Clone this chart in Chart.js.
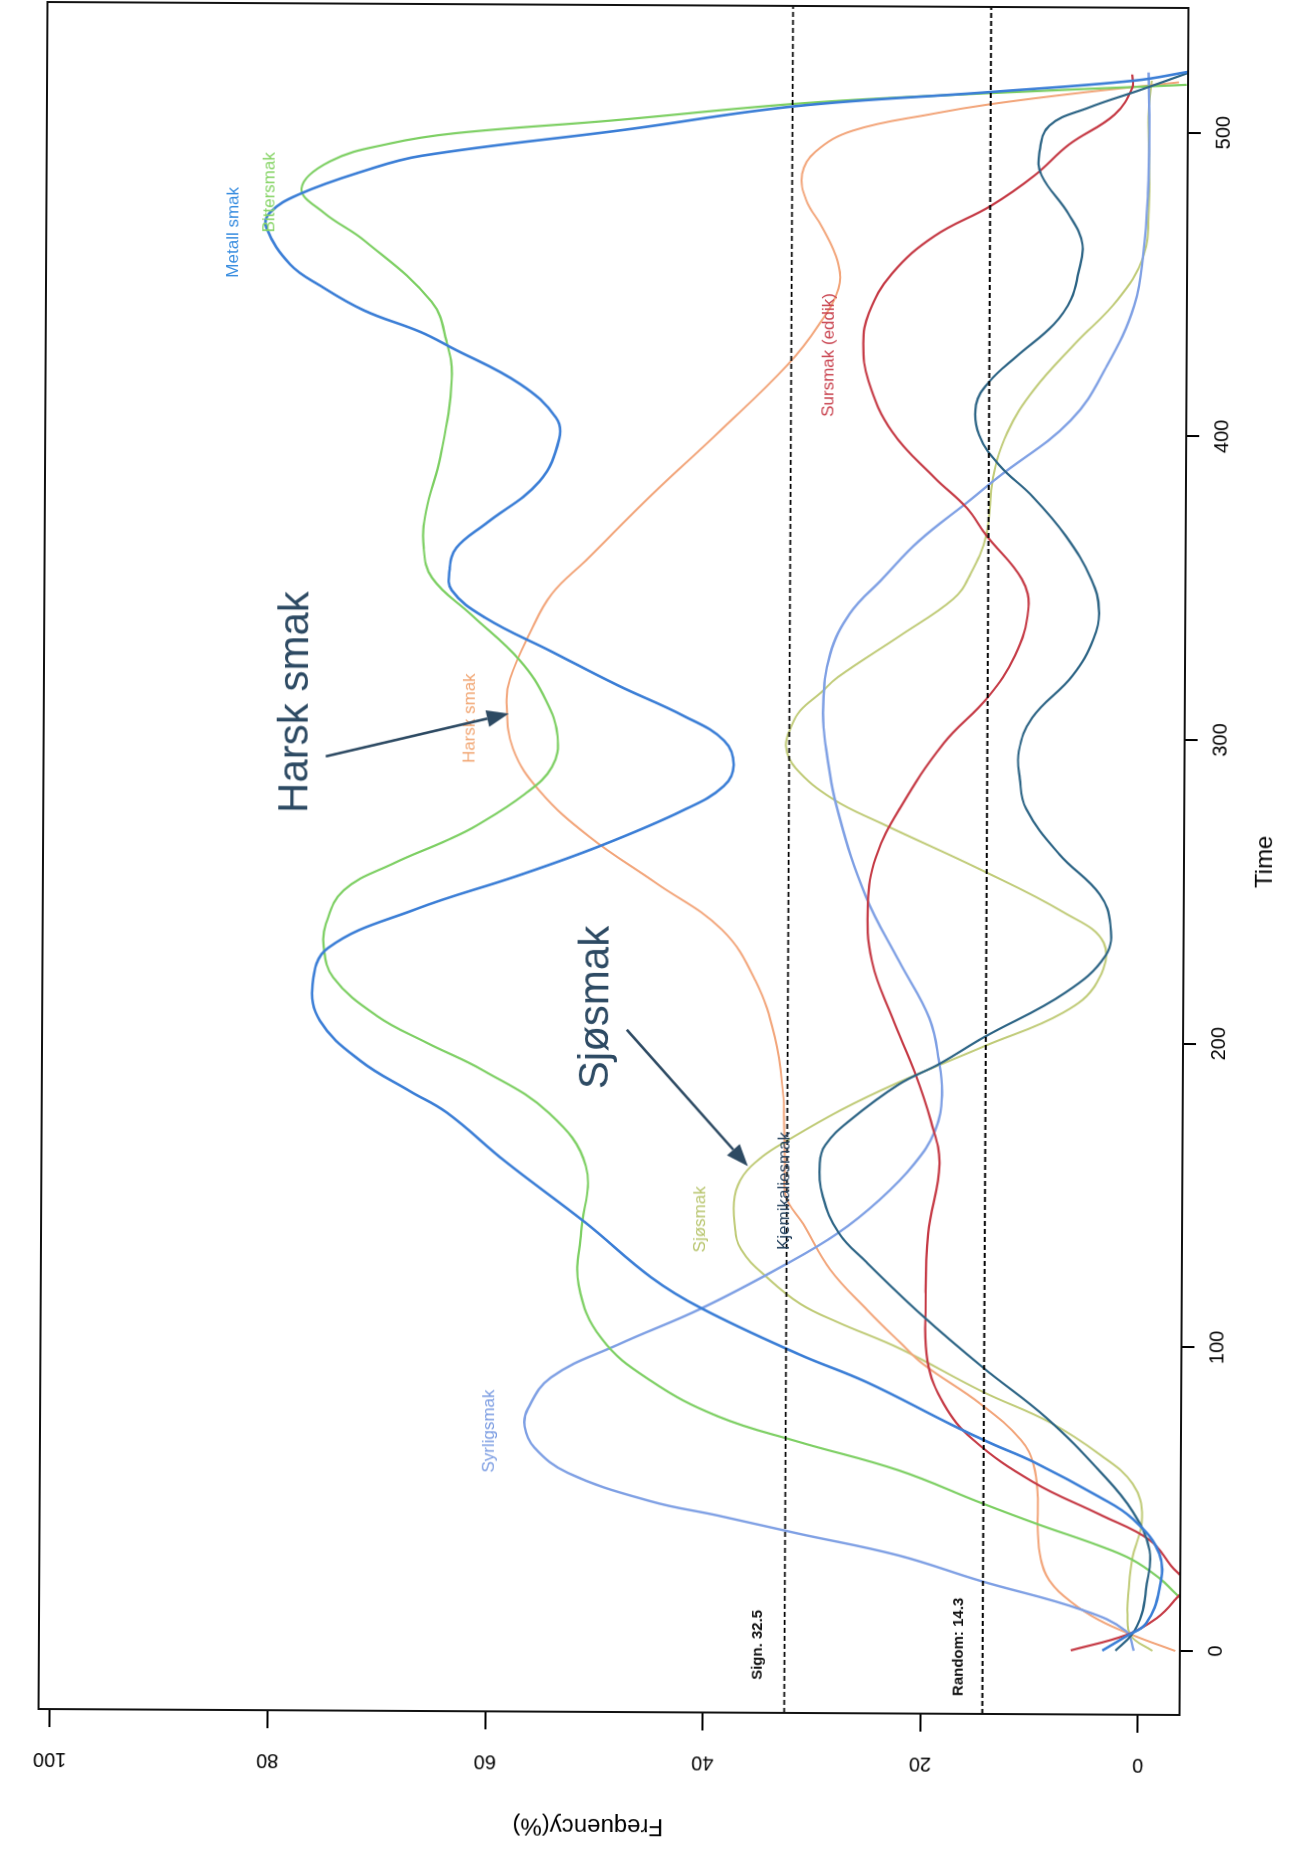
<!DOCTYPE html>
<html>
<head>
<meta charset="utf-8">
<script src="https://cdn.jsdelivr.net/npm/chart.js@4.4.1/dist/chart.umd.min.js"></script>
<style>
html, body { margin: 0; padding: 0; background: #fff; overflow: hidden; width: 1295px; height: 1854px; }
#tilt { position: absolute; left: 0; top: 0; width: 1295px; height: 1854px; transform-origin: 613.5px 858.5px; transform: rotate(0.3deg); }
#turn { position: absolute; left: 0; top: 0; width: 1854px; height: 1295px; transform-origin: 0 0; transform: translate(0px, 1854px) rotate(-90deg); }
canvas { display: block; }
</style>
</head>
<body>
<div id="tilt"><div id="turn"><canvas id="c" width="1854" height="1295"></canvas></div></div>
<script>
// ---------- axes ----------
const timeTicks = [0, 100, 200, 300, 400, 500];
const freqTicks = [0, 20, 40, 60, 80, 100];
const timeMin = -21.07, timeMax = 541.0;
const freqMin = -3.83, freqMax = 101.04;

// ---------- threshold levels ----------
const signLevel = 32.5;
const randomLevel = 14.3;

// ---------- series (Time, Frequency %) ----------
const metallT = [0, 5, 9, 20, 32, 43.5, 50.5, 62, 68, 74, 88, 97, 112, 122, 140, 160, 176, 183, 193, 206, 218, 230, 243, 254, 264, 276, 284, 291, 299, 307, 317, 328, 339, 348, 355, 362, 370, 384, 398, 405, 416, 428, 433, 440, 448, 455, 467, 472, 478, 486, 491, 500, 508, 513, 517, 520];
const metallF = [3.3, 1.0, -0.7, -1.9, -1.9, 0.6, 3.6, 9.7, 13.6, 17.2, 25.1, 31.3, 40.3, 44.9, 51.0, 58.4, 63.8, 67.2, 71.8, 75.5, 76.2, 74.8, 66.7, 57.5, 49.9, 42.2, 38.5, 37.6, 38.5, 42.2, 48.3, 54.4, 60.5, 63.6, 63.8, 63.2, 60.5, 55.6, 53.8, 54.1, 57.4, 63.8, 66.6, 71.8, 75.8, 78.6, 80.8, 80.5, 77.9, 71.8, 66.6, 47.8, 32.2, 14.3, 1.1, -3.9];

const bitterT = [10, 19.3, 24, 30, 34.6, 41.5, 48.4, 59, 68.2, 76.4, 88, 102, 119.5, 137, 158.6, 176, 190, 199, 207.8, 220.3, 230.5, 238, 249, 258, 265.7, 270.6, 281, 290, 300, 312, 325, 340, 352, 362, 374, 392, 417.6, 430, 443, 463, 472, 480, 489, 495, 498.5, 503, 509, 512.5, 515.7];
const bitterF = [-6, -3.3, -1.9, 0.6, 3.7, 9.3, 14.5, 22.1, 31.3, 38.7, 44.9, 49.5, 51.6, 51.4, 51.0, 54.4, 60.5, 65.7, 70.3, 74.3, 75.2, 75.0, 73.4, 68.8, 63.9, 61.2, 56.8, 54.3, 53.8, 54.9, 57.3, 61.8, 65.4, 66.2, 66.0, 64.7, 63.7, 64.2, 65.6, 71.8, 75.5, 77.6, 75.0, 69.5, 63.5, 49.0, 31.5, 15.0, -3.7];

const harskT = [0, 5, 10, 16, 23, 30, 40, 50, 61, 69.3, 81, 94, 101, 111.5, 125, 140, 149, 160, 172.5, 182.5, 201.5, 220, 236.7, 252, 267, 282, 296, 311, 319, 334, 347, 358, 380, 401, 423, 436, 448, 457, 468, 477, 485.7, 493, 500, 505.8, 509, 513, 516.5];
const harskF = [-3.4, 0.4, 3.6, 6.2, 8.2, 9.0, 9.3, 9.3, 9.7, 10.9, 14.6, 19.9, 22.0, 25.0, 28.5, 31.0, 32.6, 32.7, 32.8, 32.9, 33.7, 35.5, 38.6, 44.7, 50.8, 55.4, 57.9, 58.5, 58.2, 56.4, 54.4, 51.3, 45.2, 39.0, 32.8, 30.0, 28.2, 28.3, 29.7, 31.2, 31.6, 30.4, 27.0, 19.5, 14.3, 5.8, -3.0];

const sjoT = [0, 5, 12, 20, 30, 44, 55, 64.5, 75, 85, 99, 107.7, 113.6, 122, 131.5, 140, 149, 156, 162, 167.4, 177.5, 186.4, 199, 210, 220, 233, 243, 257, 272, 280, 290, 297, 304, 309, 315, 320, 334, 346, 353, 367, 386, 401, 415, 430, 445, 459, 475, 490, 505, 517];
const sjoF = [-1.3, 0.7, 1.0, 0.9, 0.6, -0.3, 0.6, 3.6, 8.2, 14.4, 22.0, 27.8, 31.2, 34.2, 36.7, 37.3, 37.3, 36.5, 34.8, 32.5, 27.6, 22.5, 14.3, 7.2, 4.1, 3.5, 7.2, 14.9, 24.0, 28.5, 31.9, 32.8, 32.3, 31.5, 29.6, 28.1, 22.3, 17.5, 16.1, 14.5, 13.9, 12.6, 10.2, 6.5, 2.5, 0.2, -0.3, -0.3, -0.2, -0.5];

const syrligT = [0, 6.4, 13.4, 22.7, 31, 38, 43.8, 48.4, 57.6, 65.9, 72.8, 78.7, 89, 100, 112, 126.4, 137, 148, 160, 171, 182.5, 194, 208, 226.6, 248, 274.6, 296, 311, 327.5, 341, 352.6, 365, 378.6, 386, 405, 423, 443, 460, 480, 500, 519.7];
const syrligF = [0.4, 1.1, 5.2, 14.5, 22.1, 31.3, 38.7, 44.9, 52.5, 55.6, 56.5, 56.2, 54.1, 47.9, 40.3, 32.7, 27.8, 24.0, 20.8, 18.9, 18.3, 18.6, 19.5, 22.3, 25.4, 27.9, 29.1, 29.4, 28.8, 27.0, 24.0, 20.7, 16.0, 13.5, 6.8, 3.5, 1.0, 0.2, -0.2, -0.3, -0.2];

const kjemT = [0, 5.3, 12, 20.4, 33, 46, 59, 76.4, 93, 110, 127.6, 137, 149, 160, 166, 174, 186, 193, 201.5, 216.6, 229, 239, 249, 262, 277, 287, 296, 307, 321, 333, 342.6, 352.6, 367, 380, 390, 400, 410, 417.6, 426, 436.6, 445, 453, 463, 473, 485.7, 493, 502, 508, 514, 519.7];
const kjemF = [2.1, 0.6, -0.3, -0.7, -1.0, 0.6, 3.6, 8.5, 14.4, 20.0, 25.2, 27.7, 29.2, 29.5, 29.0, 26.8, 22.3, 18.5, 14.6, 7.0, 3.3, 2.9, 3.9, 7.6, 10.7, 11.3, 11.4, 10.2, 6.5, 4.6, 4.1, 4.8, 7.2, 10.3, 13.3, 15.2, 15.5, 14.3, 11.8, 8.4, 6.8, 6.2, 5.8, 7.1, 9.6, 9.8, 8.9, 5.3, 0.5, -3.9];

const sursT = [0, 5.3, 10.8, 17, 22, 28, 36.5, 44.8, 55.3, 69.3, 81, 95, 113.6, 137, 160, 174, 190, 208, 226.6, 245.6, 260.7, 277, 298.5, 313.6, 327.5, 342.6, 352.6, 367, 376, 386, 401, 417.6, 430, 440, 453, 465.5, 475.6, 485.7, 495.8, 505.8, 514.6, 519];
const sursF = [6.2, 1.0, -1.7, -3.4, -4.3, -3.0, -1.0, 3.6, 9.7, 15.3, 18.0, 19.5, 19.7, 19.5, 18.5, 19.3, 20.8, 22.9, 24.8, 25.2, 24.5, 22.3, 18.3, 14.3, 11.8, 10.6, 11.2, 14.5, 16.3, 19.3, 23.2, 25.4, 25.9, 25.4, 23.3, 19.4, 14.2, 10.2, 7.1, 2.9, 1.3, 1.3];

// ---------- styling / annotation config ----------
const FONT = '"Liberation Sans", Arial, Helvetica, sans-serif';
const seriesStyle = [
  { name: 'Metall smak',     T: metallT, F: metallF, color: '#3b7ed6', width: 2.6 },
  { name: 'Kjemikaliesmak',  T: kjemT,   F: kjemF,   color: '#2c6485', width: 2.2 },
  { name: 'Sursmak (eddik)', T: sursT,   F: sursF,   color: '#c53a45', width: 2.2 },
  { name: 'Bittersmak',      T: bitterT, F: bitterF, color: '#7dcf63', width: 2.2 },
  { name: 'Syrligsmak',      T: syrligT, F: syrligF, color: '#7fa0e4', width: 2.4 },
  { name: 'Harsk smak',      T: harskT,  F: harskF,  color: '#f2a57a', width: 2.0 },
  { name: 'Sjøsmak',         T: sjoT,    F: sjoF,    color: '#c0cb78', width: 2.0 }
];
const lineLabels = [
  { text: 'Metall smak',     t: 465.5, f: 83.8, color: '#3a8ee0' },
  { text: 'Bittersmak',      t: 478.7, f: 80.5, color: '#86d466' },
  { text: 'Harsk smak',      t: 305.9, f: 61.9, color: '#f1a673' },
  { text: 'Sursmak (eddik)', t: 426.1, f: 29.0, color: '#c94450' },
  { text: 'Sjøsmak',         t: 141.3, f: 40.4, color: '#b8c56e' },
  { text: 'Kjemikaliesmak',  t: 150.8, f: 32.7, color: '#26435f' },
  { text: 'Syrligsmak',      t: 71.2,  f: 59.7, color: '#7c9de2' }
];
const levelLabels = [
  { text: 'Sign. 32.5',   t: 1.3, f: 35.0 },
  { text: 'Random: 14.3', t: 1.0, f: 16.5 }
];
const bigNotes = [
  { text: 'Harsk smak', t: 310.9, f: 77.8, from: [293.1, 75.1], to: [307.5, 58.3] },
  { text: 'Sjøsmak',    t: 210.9, f: 50.1, from: [203.6, 47.3], to: [158.9, 36.1] }
];
const noteColor = '#2d4a63';

function toPoints(T, F) { return T.map((t, i) => ({ x: t, y: F[i] })); }

const datasets = [
  { data: [{ x: timeMin, y: signLevel }, { x: timeMax, y: signLevel }], borderColor: '#000', borderWidth: 1.8, borderDash: [5, 3], pointRadius: 0, tension: 0 },
  { data: [{ x: timeMin, y: randomLevel }, { x: timeMax, y: randomLevel }], borderColor: '#000', borderWidth: 1.8, borderDash: [5, 3], pointRadius: 0, tension: 0 }
].concat(seriesStyle.map(s => ({
  label: s.name,
  data: toPoints(s.T, s.F),
  borderColor: s.color,
  borderWidth: s.width,
  pointRadius: 0,
  fill: false,
  tension: 0.4
})));

function drawArrow(ctx, x1, y1, x2, y2, color) {
  const ang = Math.atan2(y2 - y1, x2 - x1);
  const hl = 22, hw = 8.5;
  const bx = x2 - hl * Math.cos(ang), by = y2 - hl * Math.sin(ang);
  ctx.strokeStyle = color; ctx.lineWidth = 2.6;
  ctx.beginPath(); ctx.moveTo(x1, y1); ctx.lineTo(bx, by); ctx.stroke();
  ctx.fillStyle = color;
  ctx.beginPath();
  ctx.moveTo(x2, y2);
  ctx.lineTo(bx + hw * Math.sin(ang), by - hw * Math.cos(ang));
  ctx.lineTo(bx - hw * Math.sin(ang), by + hw * Math.cos(ang));
  ctx.closePath(); ctx.fill();
}

const annotPlugin = {
  id: 'annot',
  afterDraw(chart) {
    const { ctx, chartArea: a } = chart;
    const xs = chart.scales.x, ys = chart.scales.y;
    const P = (t, f) => [xs.getPixelForValue(t), ys.getPixelForValue(f)];
    ctx.save();
    ctx.strokeStyle = '#111'; ctx.lineWidth = 2;
    ctx.strokeRect(a.left, a.top, a.right - a.left, a.bottom - a.top);
    ctx.fillStyle = '#000';
    ctx.font = '20px ' + FONT;
    ctx.textAlign = 'center'; ctx.textBaseline = 'middle';
    freqTicks.forEach(v => {
      ctx.save(); ctx.translate(92, ys.getPixelForValue(v)); ctx.rotate(-Math.PI / 2);
      ctx.fillText(String(v), 0, 0); ctx.restore();
    });
    ctx.save(); ctx.translate(28, ys.getPixelForValue(50.5)); ctx.rotate(-Math.PI / 2);
    ctx.font = '24px ' + FONT; ctx.fillText('Frequency(%)', 0, 0); ctx.restore();
    ctx.font = '17px ' + FONT;
    lineLabels.forEach(l => { const [px, py] = P(l.t, l.f); ctx.fillStyle = l.color; ctx.fillText(l.text, px, py); });
    ctx.font = 'bold 15px ' + FONT; ctx.fillStyle = '#111';
    levelLabels.forEach(l => { const [px, py] = P(l.t, l.f); ctx.fillText(l.text, px, py); });
    ctx.font = '42px ' + FONT;
    bigNotes.forEach(n => {
      const [px, py] = P(n.t, n.f);
      ctx.fillStyle = noteColor; ctx.fillText(n.text, px, py);
      const [x1, y1] = P(n.from[0], n.from[1]);
      const [x2, y2] = P(n.to[0], n.to[1]);
      drawArrow(ctx, x1, y1, x2, y2, noteColor);
    });
    ctx.restore();
  }
};

new Chart(document.getElementById('c').getContext('2d'), {
  type: 'line',
  data: { datasets },
  options: {
    responsive: false,
    animation: false,
    events: [],
    layout: { padding: { top: 43, right: 5, bottom: 0, left: 0 } },
    plugins: { legend: { display: false }, tooltip: { enabled: false } },
    scales: {
      x: {
        type: 'linear', position: 'bottom', min: timeMin, max: timeMax,
        afterBuildTicks: s => { s.ticks = timeTicks.map(v => ({ value: v })); },
        afterFit: s => { s.height = 111; },
        grid: { display: true, drawOnChartArea: false, drawTicks: true, tickLength: 13, color: '#000', lineWidth: 2 },
        border: { display: false },
        ticks: { color: '#000', font: { family: FONT, size: 20 }, padding: 11, minRotation: 0, maxRotation: 0, autoSkip: false },
        title: { display: true, text: 'Time', color: '#000', font: { family: FONT, size: 24 }, padding: { top: 0, bottom: 15.6 } }
      },
      y: {
        type: 'linear', position: 'left', min: freqMin, max: freqMax,
        afterBuildTicks: s => { s.ticks = freqTicks.map(v => ({ value: v })); },
        afterFit: s => { s.width = 142; },
        grid: { display: true, drawOnChartArea: false, drawTicks: true, tickLength: 18, color: '#000', lineWidth: 2 },
        border: { display: false },
        ticks: { display: false }
      }
    }
  },
  plugins: [annotPlugin]
});
</script>
</body>
</html>
